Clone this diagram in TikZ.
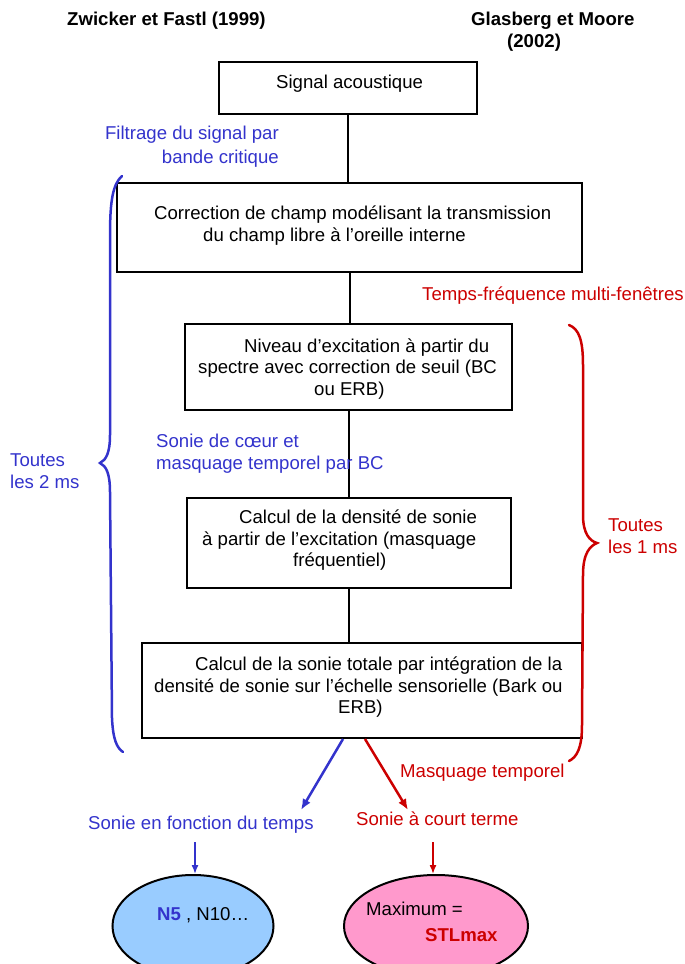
\documentclass[tikz,border=0pt]{standalone}
\usepackage{fontspec}
\setmainfont{Liberation Sans}
\usetikzlibrary{arrows.meta,shapes.geometric}
\definecolor{myblue}{RGB}{51,51,204}
\definecolor{myred}{RGB}{204,0,0}
\definecolor{lblue}{RGB}{153,204,255}
\definecolor{lpink}{RGB}{255,153,204}
\begin{document}
\begin{tikzpicture}[x=1pt,y=-1pt,
  txt/.style={inner sep=0pt, anchor=base west, font=\fontsize{18.6}{21.7}\selectfont},
  btxt/.style={txt, font=\fontsize{18.6}{21.7}\selectfont\bfseries},
  bluetxt/.style={txt, text=myblue},
  redtxt/.style={txt, text=myred},
  procbox/.style={draw, line width=2pt, inner sep=0pt, anchor=north west},
  link/.style={line width=2pt},
  bigarrow/.style={line width=2.5pt, -{Latex[length=11pt,width=9pt]}},
  smallarrow/.style={line width=1.5pt, -{Latex[length=9pt,width=7pt]}},
  bracepath/.style={line width=2.5pt, line cap=round},
  oval/.style={ellipse, draw, line width=2pt, inner sep=0pt}
]
\useasboundingbox (0,0) rectangle (685,964);
\clip (0,0) rectangle (685,964);

% headers
\node[btxt] (h1) at (67,25) {Zwicker et Fastl (1999)};
\node[btxt] (h2) at (471,25) {Glasberg et Moore};
\node[btxt] (h3) at (507,47) {(2002)};

% boxes
\node[procbox, minimum width=258, minimum height=52] (b1) at (218,61) {};
\node[procbox, minimum width=465, minimum height=89] (b2) at (116,182) {};
\node[procbox, minimum width=327, minimum height=86] (b3) at (184,323) {};
\node[procbox, minimum width=324, minimum height=90] (b4) at (186,497) {};
\node[procbox, minimum width=440, minimum height=95] (b5) at (141,642) {};

% box texts
\node[txt] (t1) at (276,88) {Signal acoustique};
\node[txt] (t2a) at (154,219) {Correction de champ modélisant la transmission};
\node[txt] (t2b) at (203,241) {du champ libre à l’oreille interne};
\node[txt] (t3a) at (244,352) {Niveau d’excitation à partir du};
\node[txt] (t3b) at (198,373.5) {spectre avec correction de seuil (BC};
\node[txt] (t3c) at (314,395) {ou ERB)};
\node[txt] (t4a) at (239,523) {Calcul de la densité de sonie};
\node[txt] (t4b) at (202,545) {à partir de l’excitation (masquage};
\node[txt] (t4c) at (293,566) {fréquentiel)};
\node[txt] (t5a) at (195,670) {Calcul de la sonie totale par intégration de la};
\node[txt] (t5b) at (154,692) {densité de sonie sur l’échelle sensorielle (Bark ou};
\node[txt] (t5c) at (338,713) {ERB)};

% connectors between boxes
\draw[link] (b1.south) -- (b1.south |- b2.north);
\draw[link] (b2.south) -- (b2.south |- b3.north);
\draw[link] (b3.south) -- (b3.south |- b4.north);
\draw[link] (b4.south) -- (b4.south |- b5.north);

% side labels
\node[bluetxt, anchor=base east] (f1) at (279,139) {Filtrage du signal par};
\node[bluetxt, anchor=base east] (f2) at (279,163) {bande critique};
\node[redtxt] (tf) at (422,300) {Temps-fréquence multi-fenêtres};
\node[bluetxt] (sc1) at (156,447) {Sonie de cœur et};
\node[bluetxt] (sc2) at (156,469) {masquage temporel par BC};
\node[bluetxt] (tb1) at (10,466) {Toutes};
\node[bluetxt] (tb2) at (10,488) {les 2 ms};
\node[redtxt] (tr1) at (608,531) {Toutes};
\node[redtxt] (tr2) at (608,553) {les 1 ms};
\node[redtxt] (mt) at (400,777) {Masquage temporel};
\node[bluetxt] (sft) at (88,829) {Sonie en fonction du temps};
\node[redtxt] (sct) at (356,825) {Sonie à court terme};

% braces
\draw[bracepath, myblue] (122,176) .. controls (113,184) and (110,200) .. (110,235)
  -- (110,435) .. controls (110,453) and (106,460) .. (100,463)
  .. controls (106,466) and (110,473) .. (110,492)
  -- (112,718) .. controls (113,740) and (117,748) .. (123,752);
\draw[bracepath, myred] (569,325) .. controls (579,329) and (583,340) .. (583,365)
  -- (583,515) .. controls (583,534) and (590,541) .. (597,543)
  .. controls (590,546) and (583,553) .. (583,575)
  -- (582,725) .. controls (582,748) and (577,757) .. (569,761);

% output arrows
\coordinate (tipb) at (301,810);
\coordinate (tipr) at (408,810);
\draw[bigarrow, myblue] ([xshift=-19pt]b5.south) -- (tipb);
\draw[bigarrow, myred] ([xshift=3pt]b5.south) -- (tipr);

% ellipses
\node[oval, fill=lblue, minimum width=161, minimum height=102] (e1) at (193,926) {};
\node[oval, fill=lpink, minimum width=184, minimum height=102] (e2) at (436,926) {};
\node[txt] (n5) at (157,920) {\textcolor{myblue}{\bfseries N5} , N10…};
\node[txt] (mx) at (366,915) {Maximum =};
\node[btxt, text=myred] (stl) at (425,941) {STLmax};

\coordinate (sb) at (195,842);
\coordinate (sr) at (433,842);
\draw[smallarrow, myblue] (sb) -- (sb |- e1.north);
\draw[smallarrow, myred] (sr) -- (sr |- e2.north);
\end{tikzpicture}
\end{document}
